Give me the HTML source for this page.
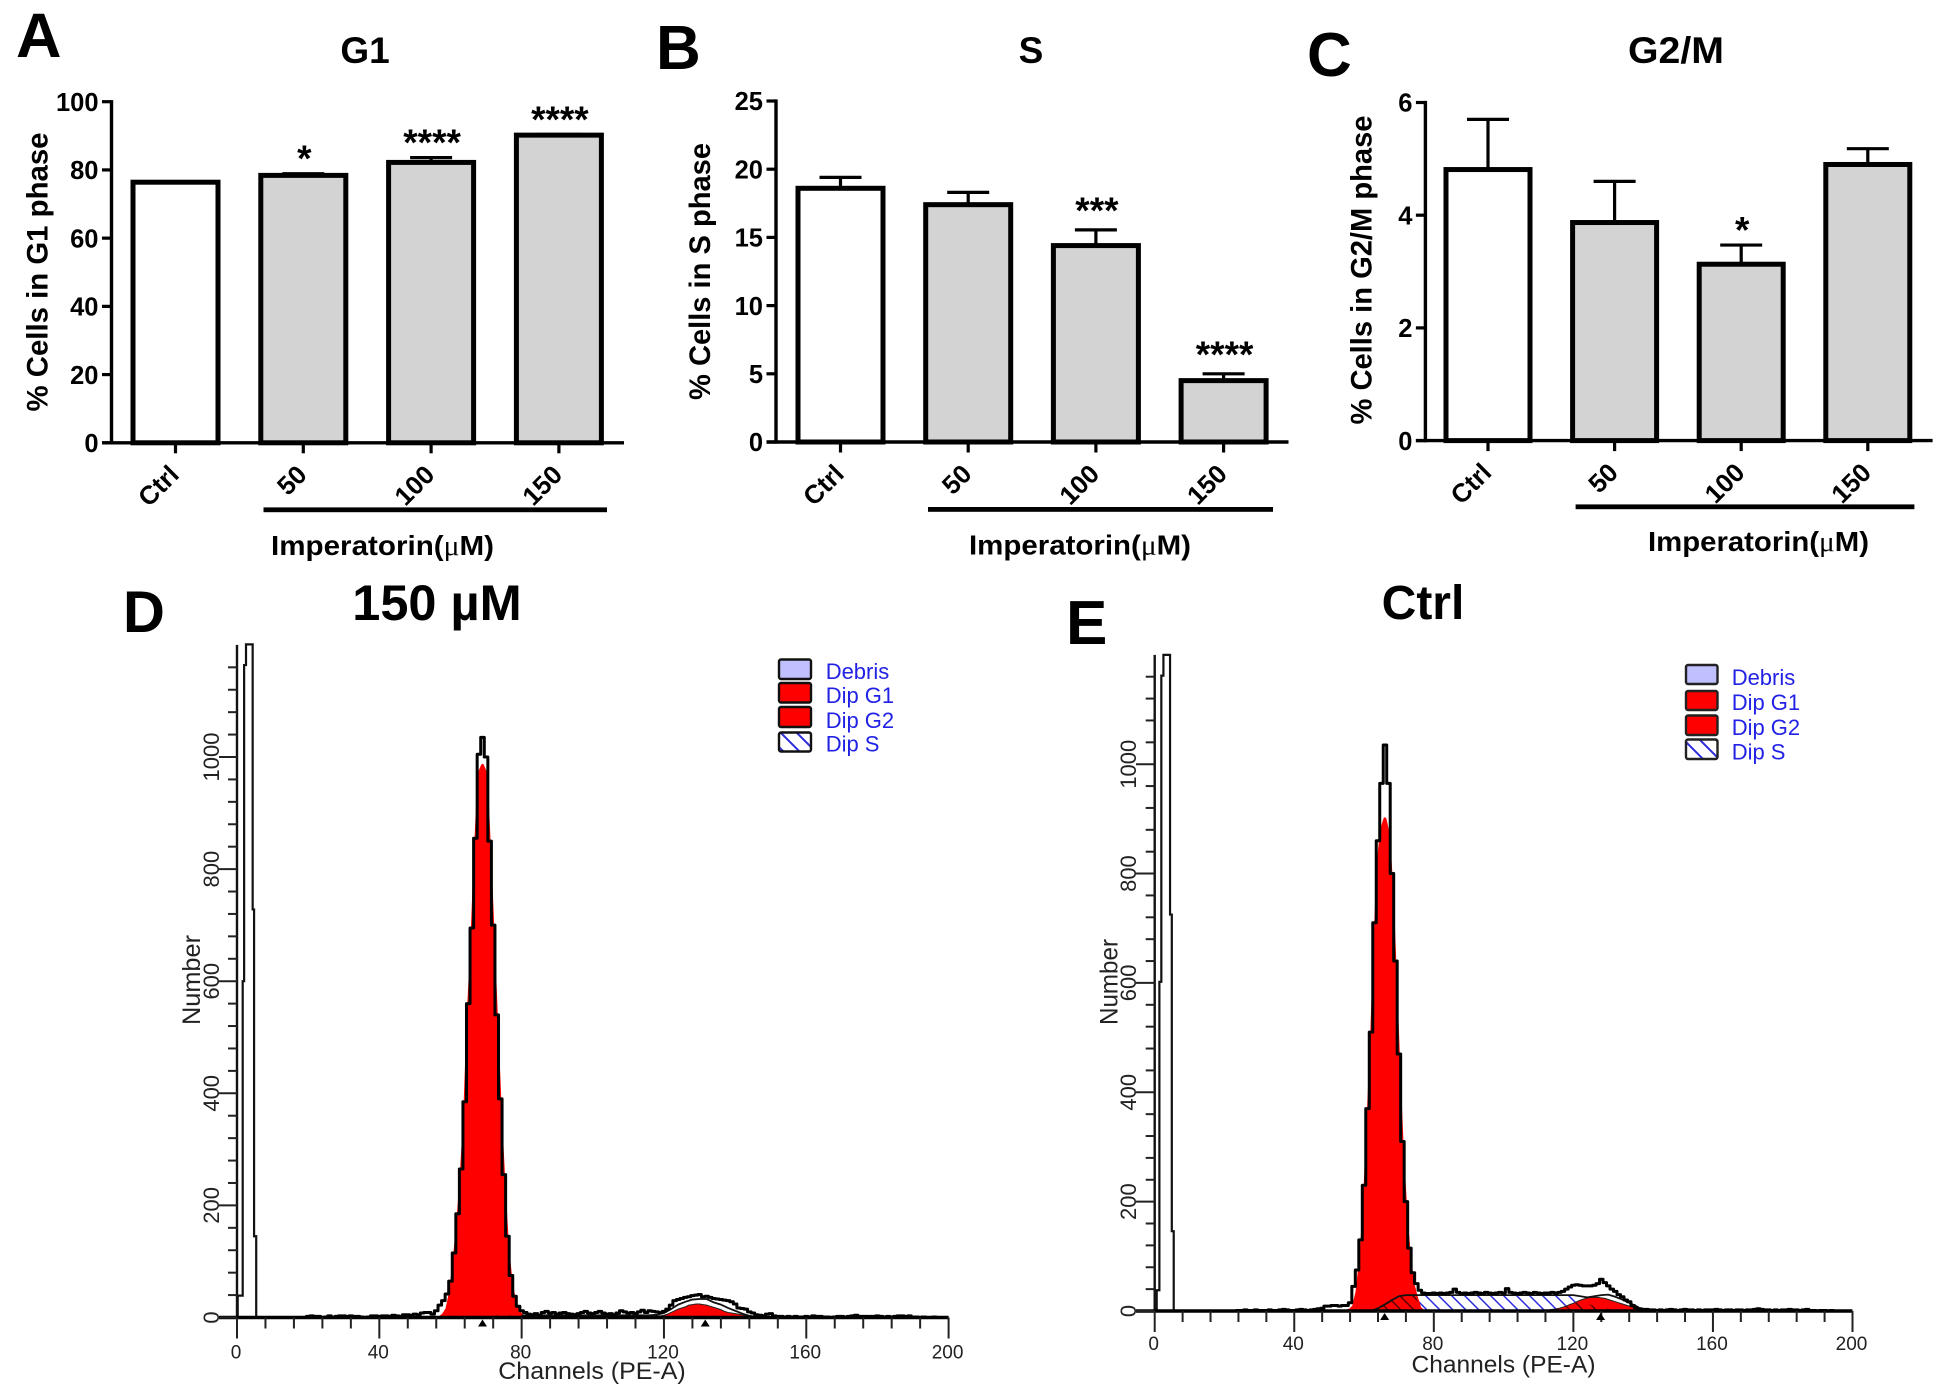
<!DOCTYPE html>
<html>
<head>
<meta charset="utf-8">
<title>Cell cycle analysis figure</title>
<style>
html,body{margin:0;padding:0;background:#fff;}
svg{display:block;}
text{font-family:"Liberation Sans",Arial,sans-serif;}
.letter{font-weight:700;fill:#000;}
.title{font-weight:700;fill:#000;font-size:37px;text-anchor:middle;}
.ytitle{font-weight:700;fill:#000;font-size:30px;text-anchor:middle;}
.imp{font-weight:700;fill:#000;font-size:28px;}
.mu{font-family:"Liberation Serif",serif;font-weight:400;}
.chan{fill:#222;font-size:24px;text-anchor:middle;}
.legtxt{fill:#2222e6;font-size:22px;}
.num{fill:#222;font-size:25px;text-anchor:middle;}
</style>
</head>
<body>
<svg id="figure" xmlns="http://www.w3.org/2000/svg" width="1937" height="1387" viewBox="0 0 1937 1387">
<defs>
<pattern id="hatch-blue" patternUnits="userSpaceOnUse" width="13" height="13"><path d="M-3 -3L16 16M-3 10L3 16M10 -3L16 3" stroke="#2a2ae0" stroke-width="1.5" fill="none"/></pattern>
<pattern id="hatch-dark" patternUnits="userSpaceOnUse" width="13" height="13"><path d="M-3 -3L16 16M-3 10L3 16M10 -3L16 3" stroke="#5a0000" stroke-width="1.5" fill="none"/></pattern>
<pattern id="hatch-legend" patternUnits="userSpaceOnUse" width="16" height="16"><path d="M-3 -3L19 19M-3 13L3 19M13 -3L19 3" stroke="#2a2ae0" stroke-width="2" fill="none"/></pattern>
</defs>
<rect width="1937" height="1387" fill="#fff"/>

<text class="letter" x="16" y="57" font-size="63">A</text>
<text class="letter" x="656" y="69" font-size="62">B</text>
<text class="letter" x="1307" y="76" font-size="62">C</text>
<text class="letter" x="123" y="632" font-size="58">D</text>
<text class="letter" x="1066" y="644" font-size="62">E</text>

<text class="title" x="365" y="63">G1</text>
<text class="title" x="1031" y="63">S</text>
<text class="title" x="1676" y="63" textLength="96" lengthAdjust="spacingAndGlyphs">G2/M</text>
<text class="letter" x="437" y="620" font-size="50.5" text-anchor="middle">150 µM</text>
<text class="letter" x="1423" y="619" font-size="48" text-anchor="middle">Ctrl</text>

<text class="ytitle" transform="translate(47.5 272) rotate(-90)" textLength="279" lengthAdjust="spacingAndGlyphs">% Cells in G1 phase</text>
<text class="ytitle" transform="translate(710 271.5) rotate(-90)" textLength="257" lengthAdjust="spacingAndGlyphs">% Cells in S phase</text>
<text class="ytitle" transform="translate(1371.7 270) rotate(-90)" textLength="309" lengthAdjust="spacingAndGlyphs">% Cells in G2/M phase</text>

<rect x="263.5" y="507.4" width="343.5" height="4.8" fill="#000"/>
<rect x="928" y="507" width="345" height="4.8" fill="#000"/>
<rect x="1575.6" y="504.4" width="338.8" height="4.8" fill="#000"/>
<text class="imp" x="271" y="555" textLength="223" lengthAdjust="spacingAndGlyphs">Imperatorin(<tspan class="mu">μ</tspan>M)</text>
<text class="imp" x="969" y="554.5" textLength="222" lengthAdjust="spacingAndGlyphs">Imperatorin(<tspan class="mu">μ</tspan>M)</text>
<text class="imp" x="1648" y="551" textLength="221" lengthAdjust="spacingAndGlyphs">Imperatorin(<tspan class="mu">μ</tspan>M)</text>

<g id="bars-g1"></g>
<g id="bars-s"></g>
<g id="bars-g2m"></g>
<g id="hist-d"></g>
<g id="hist-e"></g>

<text class="num" transform="translate(200 980) rotate(-90)" textLength="90" lengthAdjust="spacingAndGlyphs">Number</text>
<text class="num" transform="translate(1117.7 982) rotate(-90)" textLength="86" lengthAdjust="spacingAndGlyphs">Number</text>
<text class="chan" x="592" y="1379" textLength="187.5" lengthAdjust="spacingAndGlyphs">Channels (PE-A)</text>
<text class="chan" x="1503.5" y="1372.7" textLength="184" lengthAdjust="spacingAndGlyphs">Channels (PE-A)</text>

<g>
<rect x="779" y="659.5" width="32" height="19.5" rx="2" fill="#c0c0ff" stroke="#111" stroke-width="2.4"/>
<rect x="779" y="683" width="32" height="19.5" rx="2" fill="#ff0000" stroke="#111" stroke-width="2.4"/>
<rect x="779" y="707" width="32" height="20" rx="2" fill="#ff0000" stroke="#111" stroke-width="2.4"/>
<rect x="779" y="732.5" width="32" height="19" rx="2" fill="url(#hatch-legend)" stroke="#111" stroke-width="2.4"/>
<text class="legtxt" x="825.7" y="679">Debris</text>
<text class="legtxt" x="825.7" y="703">Dip G1</text>
<text class="legtxt" x="825.7" y="728">Dip G2</text>
<text class="legtxt" x="825.7" y="751.7">Dip S</text>
</g>
<g>
<rect x="1686" y="665" width="31.5" height="19" rx="2" fill="#c0c0ff" stroke="#222" stroke-width="2.4"/>
<rect x="1686" y="691" width="31.5" height="19" rx="2" fill="#ff0000" stroke="#222" stroke-width="2.4"/>
<rect x="1686" y="715.5" width="31.5" height="19.5" rx="2" fill="#ff0000" stroke="#222" stroke-width="2.4"/>
<rect x="1686" y="739.5" width="31.5" height="19.5" rx="2" fill="url(#hatch-legend)" stroke="#222" stroke-width="2.4"/>
<text class="legtxt" x="1731.7" y="685">Debris</text>
<text class="legtxt" x="1731.7" y="710">Dip G1</text>
<text class="legtxt" x="1731.7" y="735">Dip G2</text>
<text class="legtxt" x="1731.7" y="759.3">Dip S</text>
</g>
</svg>

<script>
/* ---------- bar chart data ---------- */
const barCategories = ['Ctrl', '50', '100', '150'];

const g1Means = [76.4, 78.4, 82.2, 90.2];
const g1Errors = [0.1, 0.5, 1.4, 0.2];
const g1Stars = ['', '*', '****', '****'];
const g1Ticks = [0, 20, 40, 60, 80, 100];

const sMeans = [18.6, 17.4, 14.4, 4.5];
const sErrors = [0.8, 0.9, 1.15, 0.5];
const sStars = ['', '', '***', '****'];
const sTicks = [0, 5, 10, 15, 20, 25];

const g2mMeans = [4.81, 3.87, 3.13, 4.9];
const g2mErrors = [0.89, 0.73, 0.34, 0.28];
const g2mStars = ['', '', '*', ''];
const g2mTicks = [0, 2, 4, 6];

/* ---------- histogram data ---------- */
const histYLabels = [0, 200, 400, 600, 800, 1000];
const histXLabels = [0, 40, 80, 120, 160, 200];

/* debris spike: bin edges (channels) and counts */
const dDebrisEdges = [0.2, 1.6, 2, 2.53, 4.4, 4.8, 5.4];
const dDebrisCounts = [39, 600, 1164, 1201, 728, 145];
const eDebrisEdges = [0.57, 1.34, 1.9, 2.5, 4.4, 4.9, 5.45];
const eDebrisCounts = [38, 602, 1162, 1200, 725, 146];

/* 150 uM: measured histogram, first bin = channel 20 */
const dDataStart = 20;
const dDataCounts = [
2,3,2,2,0,1,3,0,2,3,
3,2,3,2,2,1,0,1,3,3,
2,3,3,2,4,3,2,5,5,4,
6,5,8,9,9,6,12,22,30,42,
65,115,185,265,385,560,695,855,1005,1035,
1000,850,700,540,390,255,145,75,38,20,
12,9,6,5,7,4,9,11,8,9,
6,8,9,7,6,5,7,9,11,8,
7,9,11,8,6,7,5,8,12,10,
8,9,7,10,13,9,12,11,10,9,
11,15,22,30,32,34,36,37,39,40,
41,37,38,36,34,33,32,31,30,28,
24,17,16,15,10,8,5,4,3,6,
7,3,2,2,1,2,1,2,1,1,
2,1,3,2,2,1,1,0,1,2,
2,1,2,3,4,2,2,2,2,2,
3,2,1,2,1,2,3,3,2,3,
1,1,0,1,0,0,1,0,0,0];
const dG1Start = 57;
const dG1Counts = [0,5,15,45,100,165,250,360,540,670,830,970,985,970,830,680,520,370,240,130,65,30,12,4,0];
const dG2Start = 117;
const dG2Counts = [2,3,3,4,6,9,12,15,17,19,22,23,24,24,23,22,20,18,16,14,11,9,8,7,6,5,3,0];
const dSChannels = [66,72,100,125,140,145];
const dSCounts = [0,4,3,3,2,0];
const dFitChannels = [80,116,118,120,122,124,126,128,130,132,134,136,138,140,142,144,147];
const dFitCounts = [4,4,5,8,15,23,28,32,33,33,27,23,17,12,7,3,0];

/* Ctrl: measured histogram, first bin = channel 24 */
const eDataStart = 24;
const eDataCounts = [
1,1,2,1,1,2,
1,1,1,2,1,1,2,3,2,1,
1,2,3,2,1,2,3,4,5,9,
9,10,10,9,10,10,15,45,75,130,
230,370,510,710,860,965,1035,965,800,640,
470,310,200,115,70,50,38,33,32,32,
33,32,33,32,33,34,40,34,32,33,
32,33,34,33,32,34,33,32,33,34,
33,41,34,33,32,33,34,33,32,34,
33,32,33,33,34,33,34,36,40,44,
47,48,47,46,46,46,47,50,58,52,
46,40,36,30,26,20,17,10,6,4,
3,3,2,2,1,2,1,2,3,2,
1,2,3,2,2,1,2,1,2,2,
2,3,2,1,2,2,1,2,2,1,
2,2,3,4,3,2,2,1,2,1,
2,2,3,2,2,1,2,3,1,1,
0,1,1,0,1,0,0,0,0,0];
const eG1Start = 55;
const eG1Counts = [0,2,8,35,95,180,330,470,650,815,880,900,870,770,610,440,290,180,100,50,25,5,0];
const eG2Start = 113;
const eG2Counts = [2,3,4,5,7,9,12,14,17,20,22,24,25,25,25,24,23,21,19,17,15,13,11,9,7,4,0];
const eSChannels = [62,64,66,68,70,72,74,116,118,120,122,124,126,128,130,132,134,136];
const eSCounts = [0,5,12,20,27,29,29,29,29,26,20,14,9,6,4,2,1,0];
const eFitChannels = [62,64,66,68,70,72,116,118,120,122,124,126,128,130,132,134,136,138,140];
const eFitCounts = [0,5,12,20,27,29,29,29,29,27,25,27,29,30,26,21,15,9,0];

/* ---------- helpers ---------- */
const NS = 'http://www.w3.org/2000/svg';
function mk(parent, tag, attrs, txt) {
  const n = document.createElementNS(NS, tag);
  for (const k in attrs) n.setAttribute(k, attrs[k]);
  if (txt !== undefined) n.textContent = txt;
  parent.appendChild(n);
  return n;
}

/* ---------- bar chart renderer ---------- */
function drawBars(id, means, errors, stars, ticks, o) {
  const g = document.getElementById(id);
  const yMax = ticks[ticks.length - 1];
  const yS = v => o.y0 - (v / yMax) * (o.y0 - o.yTop);
  const xS = i => o.x0 + i * o.step;

  means.forEach((m, i) => {
    const cx = xS(i), top = yS(m), errTop = yS(m + errors[i]);
    const stem = mk(g, 'path', {d: 'M' + cx + ' ' + top + 'V' + errTop + 'M' + (cx - 21) + ' ' + errTop + 'H' + (cx + 21), stroke: '#000', 'stroke-width': 3.2, fill: 'none'});
    
    
    const bar = mk(g, 'rect', {x: cx - o.barW / 2, y: top, width: o.barW, height: o.y0 - top, fill: i === 0 ? '#ffffff' : '#d3d3d3', stroke: '#000', 'stroke-width': 5});
    
    
    if (stars[i]) {
      const s = mk(g, 'text', {x: cx + 1, y: errTop + o.starDy, 'font-size': 37, 'font-weight': 700, 'text-anchor': 'middle', fill: '#000'}, stars[i]);
      
      
    }
    const t = mk(g, 'line', {x1: cx, x2: cx, y1: o.y0, y2: o.y0 + 10.5, stroke: '#000', 'stroke-width': 3.2});
    
    
    const lx = cx + 5, ly = o.y0 + 33.5;
    const l = mk(g, 'text', {x: lx, y: ly, 'font-size': 26, 'font-weight': 700, 'text-anchor': 'end', fill: '#000', transform: 'rotate(-45 ' + lx + ' ' + ly + ')'}, barCategories[i]);
    
    
  });

  const yAxis = mk(g, 'line', {x1: o.axisX, x2: o.axisX, y1: o.yTop - 1.6, y2: o.y0 + 1.6, stroke: '#000', 'stroke-width': 3.4});
  
  
  const xAxis = mk(g, 'line', {x1: o.axisX - 9.5, x2: o.xEnd, y1: o.y0, y2: o.y0, stroke: '#000', 'stroke-width': 3.4});
  
  

  ticks.forEach(v => {
    const y = yS(v);
    const t = mk(g, 'line', {x1: o.axisX - 9.5, x2: o.axisX, y1: y, y2: y, stroke: '#000', 'stroke-width': 3.2});
    
    
    const l = mk(g, 'text', {x: o.axisX - 13, y: y + 9.2, 'font-size': 25.5, 'font-weight': 700, 'text-anchor': 'end', fill: '#000'}, v);
    
    
  });
}

/* ---------- histogram renderer ---------- */
function drawHist(id, s, o) {
  const g = document.getElementById(id);
  const xS = c => o.x0 + c * o.pxPerCh;
  const yS = n => o.y0 - n * o.pxPerCount;

  const ptsFromStart = (start, counts) => counts.map((n, i) => xS(start + i).toFixed(2) + ',' + yS(n).toFixed(2));
  const ptsFromCh = (chs, counts) => counts.map((n, i) => xS(chs[i]).toFixed(2) + ',' + yS(n).toFixed(2));
  const stair = (start, counts) => {
    let d = 'M' + xS(start - 0.5).toFixed(2) + ' ' + yS(0).toFixed(2);
    counts.forEach((n, i) => {
      d += 'L' + xS(start + i - 0.5).toFixed(2) + ' ' + yS(n).toFixed(2);
      d += 'L' + xS(start + i + 0.5).toFixed(2) + ' ' + yS(n).toFixed(2);
    });
    return d;
  };

  /* debris spike */
  let dd = 'M' + xS(s.debrisEdges[0]).toFixed(2) + ' ' + yS(0).toFixed(2);
  s.debrisCounts.forEach((n, i) => {
    dd += 'L' + xS(s.debrisEdges[i]).toFixed(2) + ' ' + yS(n).toFixed(2);
    dd += 'L' + xS(s.debrisEdges[i + 1]).toFixed(2) + ' ' + yS(n).toFixed(2);
  });
  dd += 'L' + xS(s.debrisEdges[s.debrisEdges.length - 1]).toFixed(2) + ' ' + yS(0).toFixed(2);
  const spike = mk(g, 'path', {d: dd, fill: '#fff', stroke: '#111', 'stroke-width': 2.2});
  
  

  /* S phase, light hatch */
  const sPts = ptsFromCh(s.sCh, s.sCounts).join(' ') + ' ' + xS(s.sCh[s.sCh.length - 1]).toFixed(2) + ',' + yS(0) + ' ' + xS(s.sCh[0]).toFixed(2) + ',' + yS(0);
  const sPoly = mk(g, 'polygon', {points: sPts, fill: 'url(#hatch-blue)'});
  
  

  /* G1 and G2 areas */
  const g1Pts = ptsFromStart(s.g1Start, s.g1Counts).join(' ');
  const g2Pts = ptsFromStart(s.g2Start, s.g2Counts).join(' ');
  const g1Poly = mk(g, 'polygon', {points: g1Pts, fill: '#ff0000', stroke: '#ff0000', 'stroke-width': 3, 'stroke-linejoin': 'round'});
  
  
  const g2Poly = mk(g, 'polygon', {points: g2Pts, fill: '#ff0000', stroke: '#222', 'stroke-width': 1});
  
  

  /* S hatch where it overlaps the red peaks */
  const clip = mk(g, 'clipPath', {id: id + '-red-clip'});
  mk(clip, 'polygon', {points: g1Pts});
  mk(clip, 'polygon', {points: g2Pts});
  const sOver = mk(g, 'polygon', {points: sPts, fill: 'url(#hatch-dark)', 'clip-path': 'url(#' + id + '-red-clip)'});
  
  

  /* fitted envelope */
  const fit = mk(g, 'polyline', {points: ptsFromCh(s.fitCh, s.fitCounts).join(' '), fill: 'none', stroke: '#111', 'stroke-width': 1.8});
  
  

  /* measured histogram */
  const data = mk(g, 'path', {d: stair(s.dataStart, s.dataCounts), fill: 'none', stroke: '#000', 'stroke-width': 3, 'stroke-linejoin': 'round'});
  
  

  /* axes */
  const yTop = yS(1200);
  const yAxis = mk(g, 'line', {x1: o.x0, x2: o.x0, y1: yTop, y2: o.y0, stroke: '#111', 'stroke-width': 2.4});
  
  
  const xAxis = mk(g, 'line', {x1: o.x0 - o.yMajor, x2: xS(200), y1: o.y0, y2: o.y0, stroke: '#000', 'stroke-width': 3.4});
  
  

  for (let v = 0; v <= 1160; v += 40) {
    const major = v % 200 === 0;
    const t = mk(g, 'line', {x1: o.x0 - (major ? o.yMajor : 9), x2: o.x0, y1: yS(v), y2: yS(v), stroke: '#222', 'stroke-width': 2});
    
    
  }
  for (let c = 0; c <= 200; c += 8) {
    const major = c % 40 === 0;
    const t = mk(g, 'line', {x1: xS(c), x2: xS(c), y1: o.y0, y2: o.y0 + (major ? 21 : 11), stroke: '#222', 'stroke-width': 2});
    
    
  }
  histYLabels.forEach(v => {
    const lx = o.x0 - o.yMajor, ly = yS(v);
    const l = mk(g, 'text', {x: lx, y: ly, 'font-size': 22, 'text-anchor': 'middle', fill: '#222', transform: 'rotate(-90 ' + lx + ' ' + ly + ')'}, v);
    
    
  });
  histXLabels.forEach(c => {
    const l = mk(g, 'text', {x: xS(c) - 1, y: o.y0 + o.labelDy, 'font-size': 19, 'text-anchor': 'middle', fill: '#222'}, c);
    
    
  });
  s.markers.forEach(c => {
    const x = xS(c), top = o.y0 + 2, bot = o.y0 + 9;
    const m = mk(g, 'polygon', {points: (x - 4.5) + ',' + bot + ' ' + (x + 4.5) + ',' + bot + ' ' + x + ',' + top, fill: '#000'});
    
    
  });
}

/* ---------- render ---------- */
drawBars('bars-g1', g1Means, g1Errors, g1Stars, g1Ticks, {x0: 175.5, step: 127.8, axisX: 111.5, y0: 442.8, yTop: 101.7, xEnd: 624, barW: 85, starDy: -2.5});
drawBars('bars-s', sMeans, sErrors, sStars, sTicks, {x0: 840.5, step: 127.7, axisX: 776, y0: 442, yTop: 101, xEnd: 1288.5, barW: 85, starDy: -7});
drawBars('bars-g2m', g2mMeans, g2mErrors, g2mStars, g2mTicks, {x0: 1488, step: 126.6, axisX: 1425.4, y0: 440.6, yTop: 102.5, xEnd: 1932.6, barW: 84, starDy: -2.5});

drawHist('hist-d', {
  debrisEdges: dDebrisEdges, debrisCounts: dDebrisCounts,
  dataStart: dDataStart, dataCounts: dDataCounts,
  g1Start: dG1Start, g1Counts: dG1Counts,
  g2Start: dG2Start, g2Counts: dG2Counts,
  sCh: dSChannels, sCounts: dSCounts,
  fitCh: dFitChannels, fitCounts: dFitCounts,
  markers: [69, 131.6]
}, {x0: 237, y0: 1317.5, pxPerCh: 3.558, pxPerCount: 0.5605, yMajor: 18, labelDy: 40.8});

drawHist('hist-e', {
  debrisEdges: eDebrisEdges, debrisCounts: eDebrisCounts,
  dataStart: eDataStart, dataCounts: eDataCounts,
  g1Start: eG1Start, g1Counts: eG1Counts,
  g2Start: eG2Start, g2Counts: eG2Counts,
  sCh: eSChannels, sCounts: eSCounts,
  fitCh: eFitChannels, fitCounts: eFitCounts,
  markers: [65.9, 127.8]
}, {x0: 1154.7, y0: 1311, pxPerCh: 3.489, pxPerCount: 0.5468, yMajor: 18.7, labelDy: 39});
</script>
</body>
</html>
